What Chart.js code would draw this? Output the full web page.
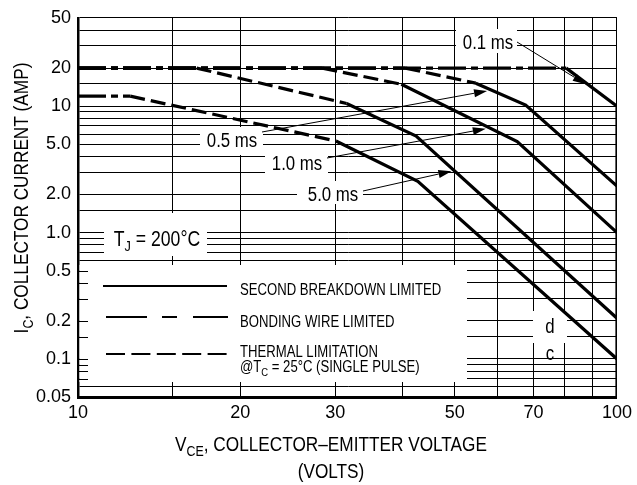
<!DOCTYPE html>
<html>
<head>
<meta charset="utf-8">
<script src="https://cdn.jsdelivr.net/npm/chart.js@4/dist/chart.umd.min.js"></script>
<style>
html,body{margin:0;padding:0;background:#fff;}
#wrap{width:637px;height:485px;position:relative;}
canvas{display:block;}
</style>
</head>
<body>
<div id="wrap"><canvas id="c" width="637" height="485"></canvas></div>
<script>
// ---------- DATA ----------
// Safe operating area curves: V_CE (volts) and I_C (amps) at each corner point
const curveNames = ['0.1 ms', '0.5 ms', '1.0 ms', '5.0 ms', 'dc'];

const vce_01ms = [10, 80.5, 100, 100];
const ic_01ms  = [20, 20, 10, 0.05];
const lim_01ms = ['bond', 'sb', 'sb'];

const vce_05ms = [10, 40.5, 54.7, 67.7, 100];
const ic_05ms  = [20, 20, 15.2, 10.2, 2.33];
const lim_05ms = ['bond', 'thermal', 'sb', 'sb'];

const vce_1ms = [10, 28.4, 39.8, 65.3, 100];
const ic_1ms  = [20, 20, 14.9, 5.25, 1.0];
const lim_1ms = ['bond', 'thermal', 'sb', 'sb'];

const vce_5ms = [10, 16.6, 31.5, 42.4, 100];
const ic_5ms  = [20, 20, 10.5, 5.8, 0.21];
const lim_5ms = ['bond', 'thermal', 'sb', 'sb'];

const vce_dc = [10, 12.5, 30.1, 42.7, 100];
const ic_dc  = [12, 12, 5.3, 2.54, 0.1];
const lim_dc = ['bond', 'thermal', 'sb', 'sb'];

// Grid lines and tick labels
const xGridValues = [10, 15, 20, 30, 40, 50, 60, 70, 80, 90, 100];
const xTickValues = [10, 20, 30, 50, 70, 100];
const xTickLabels = ['10', '20', '30', '50', '70', '100'];
const yGridValues = [0.05, 0.06, 0.07, 0.08, 0.09, 0.1, 0.15, 0.2, 0.3, 0.4, 0.5, 0.6, 0.7, 0.8, 0.9,
                     1, 1.5, 2, 3, 4, 5, 6, 7, 8, 9, 10, 15, 20, 30, 40, 50];
const yTickValues = [0.05, 0.1, 0.2, 0.5, 1, 2, 5, 10, 20, 50];
const yTickLabels = ['0.05', '0.1', '0.2', '0.5', '1.0', '2.0', '5.0', '10', '20', '50'];

// Where each duration's arrow points on its curve (V_CE, I_C)
const arrowTargetsV = [87.5, 57.4, 57.1, 49.3];
const arrowTargetsI = [14.9, 13.2, 6.63, 3.06];

// ---------- FONTS ----------
function hasFont(name) {
  const c = document.createElement('canvas').getContext('2d');
  const s = 'abcdefghijABCDEFGHIJ0123456789';
  c.font = '40px monospace';
  const w1 = c.measureText(s).width;
  c.font = "40px '" + name + "', monospace";
  const w2 = c.measureText(s).width;
  return Math.abs(w1 - w2) > 0.5;
}
const NARROW = hasFont('Liberation Sans Narrow');
const FAM = NARROW ? "'Liberation Sans Narrow', 'Liberation Sans', Arial, sans-serif" : "'Liberation Sans', Arial, sans-serif";
const SX = NARROW ? 1 : 0.82;
const TICK_SIZE = NARROW ? 21 : 18;

// ---------- STYLES ----------
const DASH = { bond: [28, 5, 7, 5], thermal: [15, 6], sb: [] };

function approxIn(v, arr) {
  for (let i = 0; i < arr.length; i++) if (Math.abs(v - arr[i]) < 1e-6 * arr[i]) return i;
  return -1;
}

function richText(ctx, parts, x, yc, size, align) {
  const subSize = size * 0.72;
  let w = 0;
  const segs = parts.map(p => {
    ctx.font = (p.sub ? subSize : size) + 'px ' + FAM;
    const mw = ctx.measureText(p.t).width;
    w += mw;
    return { t: p.t, sub: p.sub, w: mw };
  });
  ctx.save();
  ctx.translate(x, yc);
  ctx.scale(SX, 1);
  let cx = align === 'left' ? 0 : (align === 'right' ? -w : -w / 2);
  ctx.textAlign = 'left';
  ctx.textBaseline = 'alphabetic';
  ctx.fillStyle = '#000';
  const base = size * 0.36;
  for (const s of segs) {
    ctx.font = (s.sub ? subSize : size) + 'px ' + FAM;
    ctx.fillText(s.t, cx, s.sub ? base + size * 0.26 : base);
    cx += s.w;
  }
  ctx.restore();
}

function seg(ctx, x1, y1, x2, y2, dash) {
  ctx.setLineDash(dash || []);
  ctx.beginPath();
  ctx.moveTo(x1, y1);
  ctx.lineTo(x2, y2);
  ctx.stroke();
}

function arrow(ctx, x1, y1, x2, y2) {
  ctx.setLineDash([]);
  ctx.lineWidth = 1;
  const ang = Math.atan2(y2 - y1, x2 - x1);
  const L = 13, W = 4;
  const bx = x2 - L * Math.cos(ang), by = y2 - L * Math.sin(ang);
  ctx.beginPath();
  ctx.moveTo(x1, y1);
  ctx.lineTo(bx, by);
  ctx.stroke();
  ctx.beginPath();
  ctx.moveTo(x2, y2);
  ctx.lineTo(bx + W * Math.sin(ang), by - W * Math.cos(ang));
  ctx.lineTo(bx - W * Math.sin(ang), by + W * Math.cos(ang));
  ctx.closePath();
  ctx.fill();
}

// ---------- OVERLAY PLUGIN ----------
const LEGEND_BOX = { x2: 467, y1: 265, y2: 382 };
const labelBoxes = [
  [456, 29, 517, 53],   // 0.1 ms
  [200, 127, 263, 155], // 0.5 ms
  [265, 155, 328, 173], // 1.0 ms
  [297, 181, 363, 204], // 5.0 ms
  [104, 213, 207, 256], // TJ
  [533, 311, 567, 343]  // d
];

const overlay = {
  id: 'overlay',
  beforeDatasetsDraw(chart) {
    const { ctx, chartArea: a, scales: { y } } = chart;
    ctx.save();
    ctx.fillStyle = '#fff';
    ctx.fillRect(a.left + 1.5, LEGEND_BOX.y1, LEGEND_BOX.x2 - a.left - 1.5, LEGEND_BOX.y2 - LEGEND_BOX.y1);
    for (const b of labelBoxes) ctx.fillRect(b[0], b[1], b[2] - b[0], b[3] - b[1]);
    // short ticks on the left axis inside the legend box
    ctx.strokeStyle = '#000';
    ctx.lineWidth = 1;
    for (const v of yGridValues) {
      const py = Math.round(y.getPixelForValue(v)) + 0.5;
      if (py > LEGEND_BOX.y1 && py < LEGEND_BOX.y2) seg(ctx, a.left, py, a.left + 10, py);
    }
    ctx.restore();
  },
  afterDatasetsDraw(chart) {
    const { ctx, scales: { x, y } } = chart;
    ctx.save();
    ctx.strokeStyle = '#000';
    ctx.fillStyle = '#000';
    // annotation labels
    const annot = [
      ['0.1 ms', 488, 42, 517, 42],
      ['0.5 ms', 232, 140, 262, 132],
      ['1.0 ms', 297, 163, 327, 158],
      ['5.0 ms', 333, 194, 363, 191]
    ];
    annot.forEach((an, k) => {
      richText(ctx, [{ t: an[0] }], an[1], an[2], 20.5, 'center');
      const tx = x.getPixelForValue(arrowTargetsV[k]);
      const ty = y.getPixelForValue(arrowTargetsI[k]);
      arrow(ctx, an[3], an[4], tx, ty);
    });
    richText(ctx, [{ t: 'T' }, { t: 'J', sub: true }, { t: ' = 200°C' }], 157, 238, 21.5, 'center');
    richText(ctx, [{ t: 'd' }], 550, 326, 20.5, 'center');
    richText(ctx, [{ t: 'c' }], 550, 353, 20.5, 'center');

    // legend
    ctx.lineWidth = 2;
    ctx.lineCap = 'butt';
    seg(ctx, 103, 286, 227, 286, []);
    seg(ctx, 106, 317, 228, 317, [41, 15, 15, 16]);
    seg(ctx, 106, 354, 228, 354, [19, 6.4]);
    ctx.setLineDash([]);
    richText(ctx, [{ t: 'SECOND BREAKDOWN LIMITED' }], 240, 289, 16, 'left');
    richText(ctx, [{ t: 'BONDING WIRE LIMITED' }], 240, 321, 16, 'left');
    richText(ctx, [{ t: 'THERMAL LIMITATION' }], 240, 351, 16, 'left');
    richText(ctx, [{ t: '@T' }, { t: 'C', sub: true }, { t: ' = 25°C (SINGLE PULSE)' }], 240, 366, 16, 'left');
    ctx.restore();
  },
  afterDraw(chart) {
    const { ctx } = chart;
    ctx.save();
    richText(ctx, [{ t: 'V' }, { t: 'CE', sub: true }, { t: ', COLLECTOR–EMITTER VOLTAGE' }], 331, 443, 21, 'center');
    richText(ctx, [{ t: '(VOLTS)' }], 331, 470, 21, 'center');
    ctx.translate(20, 198);
    ctx.rotate(-Math.PI / 2);
    richText(ctx, [{ t: 'I' }, { t: 'C', sub: true }, { t: ', COLLECTOR CURRENT (AMP)' }], 0, 0, 21, 'center');
    ctx.restore();
  }
};

// ---------- CHART ----------
const curves = [
  { v: vce_01ms, i: ic_01ms, lim: lim_01ms },
  { v: vce_05ms, i: ic_05ms, lim: lim_05ms },
  { v: vce_1ms, i: ic_1ms, lim: lim_1ms },
  { v: vce_5ms, i: ic_5ms, lim: lim_5ms },
  { v: vce_dc, i: ic_dc, lim: lim_dc }
];

const datasets = curves.map((c, k) => ({
  label: curveNames[k],
  data: c.v.map((v, j) => ({ x: v, y: c.i[j] })),
  showLine: true,
  borderColor: '#000',
  backgroundColor: '#000',
  borderWidth: 3.2,
  pointRadius: 0,
  pointHoverRadius: 0,
  fill: false,
  tension: 0,
  borderCapStyle: 'butt',
  borderJoinStyle: 'miter',
  segment: { borderDash: ctx => DASH[c.lim[ctx.p0DataIndex]] }
}));

new Chart(document.getElementById('c'), {
  type: 'scatter',
  data: { datasets },
  options: {
    responsive: false,
    animation: false,
    devicePixelRatio: 1,
    events: [],
    layout: { padding: { left: 0, right: 19, top: 13, bottom: 0 } },
    plugins: { legend: { display: false }, tooltip: { enabled: false }, title: { display: false } },
    scales: {
      x: {
        type: 'logarithmic',
        min: 10, max: 100,
        afterBuildTicks: s => { s.ticks = xGridValues.map(v => ({ value: v })); },
        afterFit: s => { s.height = 88; },
        grid: { color: '#000', lineWidth: 1, drawTicks: false },
        border: { display: true, color: '#000', width: 3 },
        ticks: {
          autoSkip: false, maxRotation: 0, minRotation: 0, padding: 5, color: '#000',
          font: { family: FAM, size: TICK_SIZE },
          callback: v => { const k = approxIn(v, xTickValues); return k >= 0 ? xTickLabels[k] : ''; }
        }
      },
      y: {
        type: 'logarithmic',
        min: 0.05, max: 50,
        afterBuildTicks: s => { s.ticks = yGridValues.map(v => ({ value: v })); },
        afterFit: s => { s.width = 78; },
        grid: { color: '#000', lineWidth: 1, drawTicks: false },
        border: { display: true, color: '#000', width: 2.5 },
        ticks: {
          autoSkip: false, padding: 7, color: '#000',
          font: { family: FAM, size: TICK_SIZE },
          callback: v => { const k = approxIn(v, yTickValues); return k >= 0 ? yTickLabels[k] : ''; }
        }
      }
    }
  },
  plugins: [overlay]
});
</script>
</body>
</html>
